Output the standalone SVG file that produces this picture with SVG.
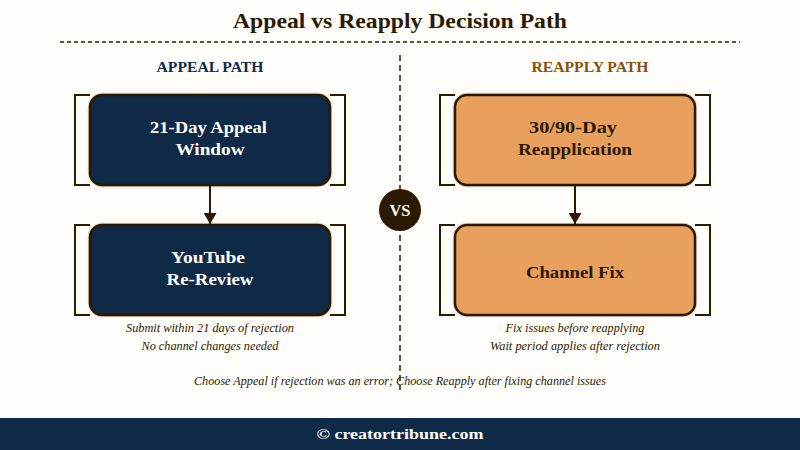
<svg xmlns="http://www.w3.org/2000/svg" width="800" height="450" viewBox="0 0 800 450">
<style>
text{font-family:"Liberation Serif","DejaVu Serif",serif;text-anchor:middle}
.b{font-weight:700}
.node{font-size:17px;font-weight:700}
.cap{font-size:12px;font-style:italic;fill:#2c1a00}
.br{fill:none;stroke:#2c1a00;stroke-width:2}
.box{stroke:#2c1a00;stroke-width:2.5}
.halo{fill:none;stroke:#c8b89c;stroke-width:4.5;opacity:.55}
.navy{fill:#0f2a47}
.or{fill:#e8a05c}
.con{stroke:#2c1a00;stroke-width:2;fill:none}
</style>
<defs><marker id="ah" markerUnits="userSpaceOnUse" markerWidth="13" markerHeight="13" refX="11" refY="6.5" orient="auto"><path d="M0 0L11 6.5L0 13Z" fill="#2c1a00"/></marker></defs>
<rect width="800" height="450" fill="#fffdf9"/>
<text class="b" x="400" y="28" font-size="22" fill="#2c1a00" textLength="334" lengthAdjust="spacingAndGlyphs">Appeal vs Reapply Decision Path</text>
<line x1="60" y1="42" x2="740" y2="42" stroke="#2c1a00" stroke-width="2" stroke-dasharray="4 3" opacity=".75"/>
<line x1="400" y1="55" x2="400" y2="390" stroke="#2c1a00" stroke-width="2" stroke-dasharray="6 4" opacity=".75"/>
<text class="b" x="210" y="72" font-size="14" fill="#0f2a47" textLength="107" lengthAdjust="spacingAndGlyphs">APPEAL PATH</text>
<text class="b" x="590" y="72" font-size="14" fill="#8b4f0a" textLength="117" lengthAdjust="spacingAndGlyphs">REAPPLY PATH</text>
<g id="node-appeal">
<path class="br" d="M90 95H75V185H90M330 95H345V185H330"/>
<rect class="halo" x="90" y="95" width="240" height="90" rx="12"/>
<rect class="box navy" x="90" y="95" width="240" height="90" rx="12"/>
<text class="node" x="208.500" y="133" fill="#fffdf9" textLength="117" lengthAdjust="spacingAndGlyphs">21-Day Appeal</text>
<text class="node" x="210" y="155" fill="#fffdf9" textLength="69" lengthAdjust="spacingAndGlyphs">Window</text>
</g>
<g id="node-review">
<path class="br" d="M90 225H75V315H90M330 225H345V315H330"/>
<rect class="halo" x="90" y="225" width="240" height="90" rx="12"/>
<rect class="box navy" x="90" y="225" width="240" height="90" rx="12"/>
<text class="node" x="208" y="263" fill="#fffdf9" textLength="74" lengthAdjust="spacingAndGlyphs">YouTube</text>
<text class="node" x="210" y="285" fill="#fffdf9" textLength="87" lengthAdjust="spacingAndGlyphs">Re-Review</text>
</g>
<g id="node-reapply">
<path class="br" d="M455 95H440V185H455M695 95H710V185H695"/>
<rect class="halo" x="455" y="95" width="240" height="90" rx="12"/>
<rect class="box or" x="455" y="95" width="240" height="90" rx="12"/>
<text class="node" x="573" y="133" fill="#2c1a00" textLength="88" lengthAdjust="spacingAndGlyphs">30/90-Day</text>
<text class="node" x="575" y="155" fill="#2c1a00" textLength="114" lengthAdjust="spacingAndGlyphs">Reapplication</text>
</g>
<g id="node-fix">
<path class="br" d="M455 225H440V315H455M695 225H710V315H695"/>
<rect class="halo" x="455" y="225" width="240" height="90" rx="12"/>
<rect class="box or" x="455" y="225" width="240" height="90" rx="12"/>
<text class="node" x="575" y="278" fill="#2c1a00" textLength="98" lengthAdjust="spacingAndGlyphs">Channel Fix</text>
</g>
<g id="connectors">
<line class="con" x1="210" y1="185" x2="210" y2="224" marker-end="url(#ah)"/>
<line class="con" x1="575" y1="185" x2="575" y2="224" marker-end="url(#ah)"/>
</g>
<g id="node-vs">
<circle cx="400" cy="210" r="21" fill="#2c1a00"/>
<text class="b" x="400" y="216" font-size="16" fill="#fffdf9" textLength="21" lengthAdjust="spacingAndGlyphs">VS</text>
</g>
<text class="cap" x="210" y="332" textLength="168" lengthAdjust="spacingAndGlyphs">Submit within 21 days of rejection</text>
<text class="cap" x="210" y="350" textLength="137" lengthAdjust="spacingAndGlyphs">No channel changes needed</text>
<text class="cap" x="575" y="332" textLength="139" lengthAdjust="spacingAndGlyphs">Fix issues before reapplying</text>
<text class="cap" x="575" y="350" textLength="170" lengthAdjust="spacingAndGlyphs">Wait period applies after rejection</text>
<text class="cap" x="400" y="385" textLength="412" lengthAdjust="spacingAndGlyphs">Choose Appeal if rejection was an error; Choose Reapply after fixing channel issues</text>
<rect y="418" width="800" height="32" fill="#0f2a47"/>
<text class="b" x="400" y="439" font-size="15" fill="#fffdf9" textLength="167" lengthAdjust="spacingAndGlyphs">© creatortribune.com</text>
</svg>
